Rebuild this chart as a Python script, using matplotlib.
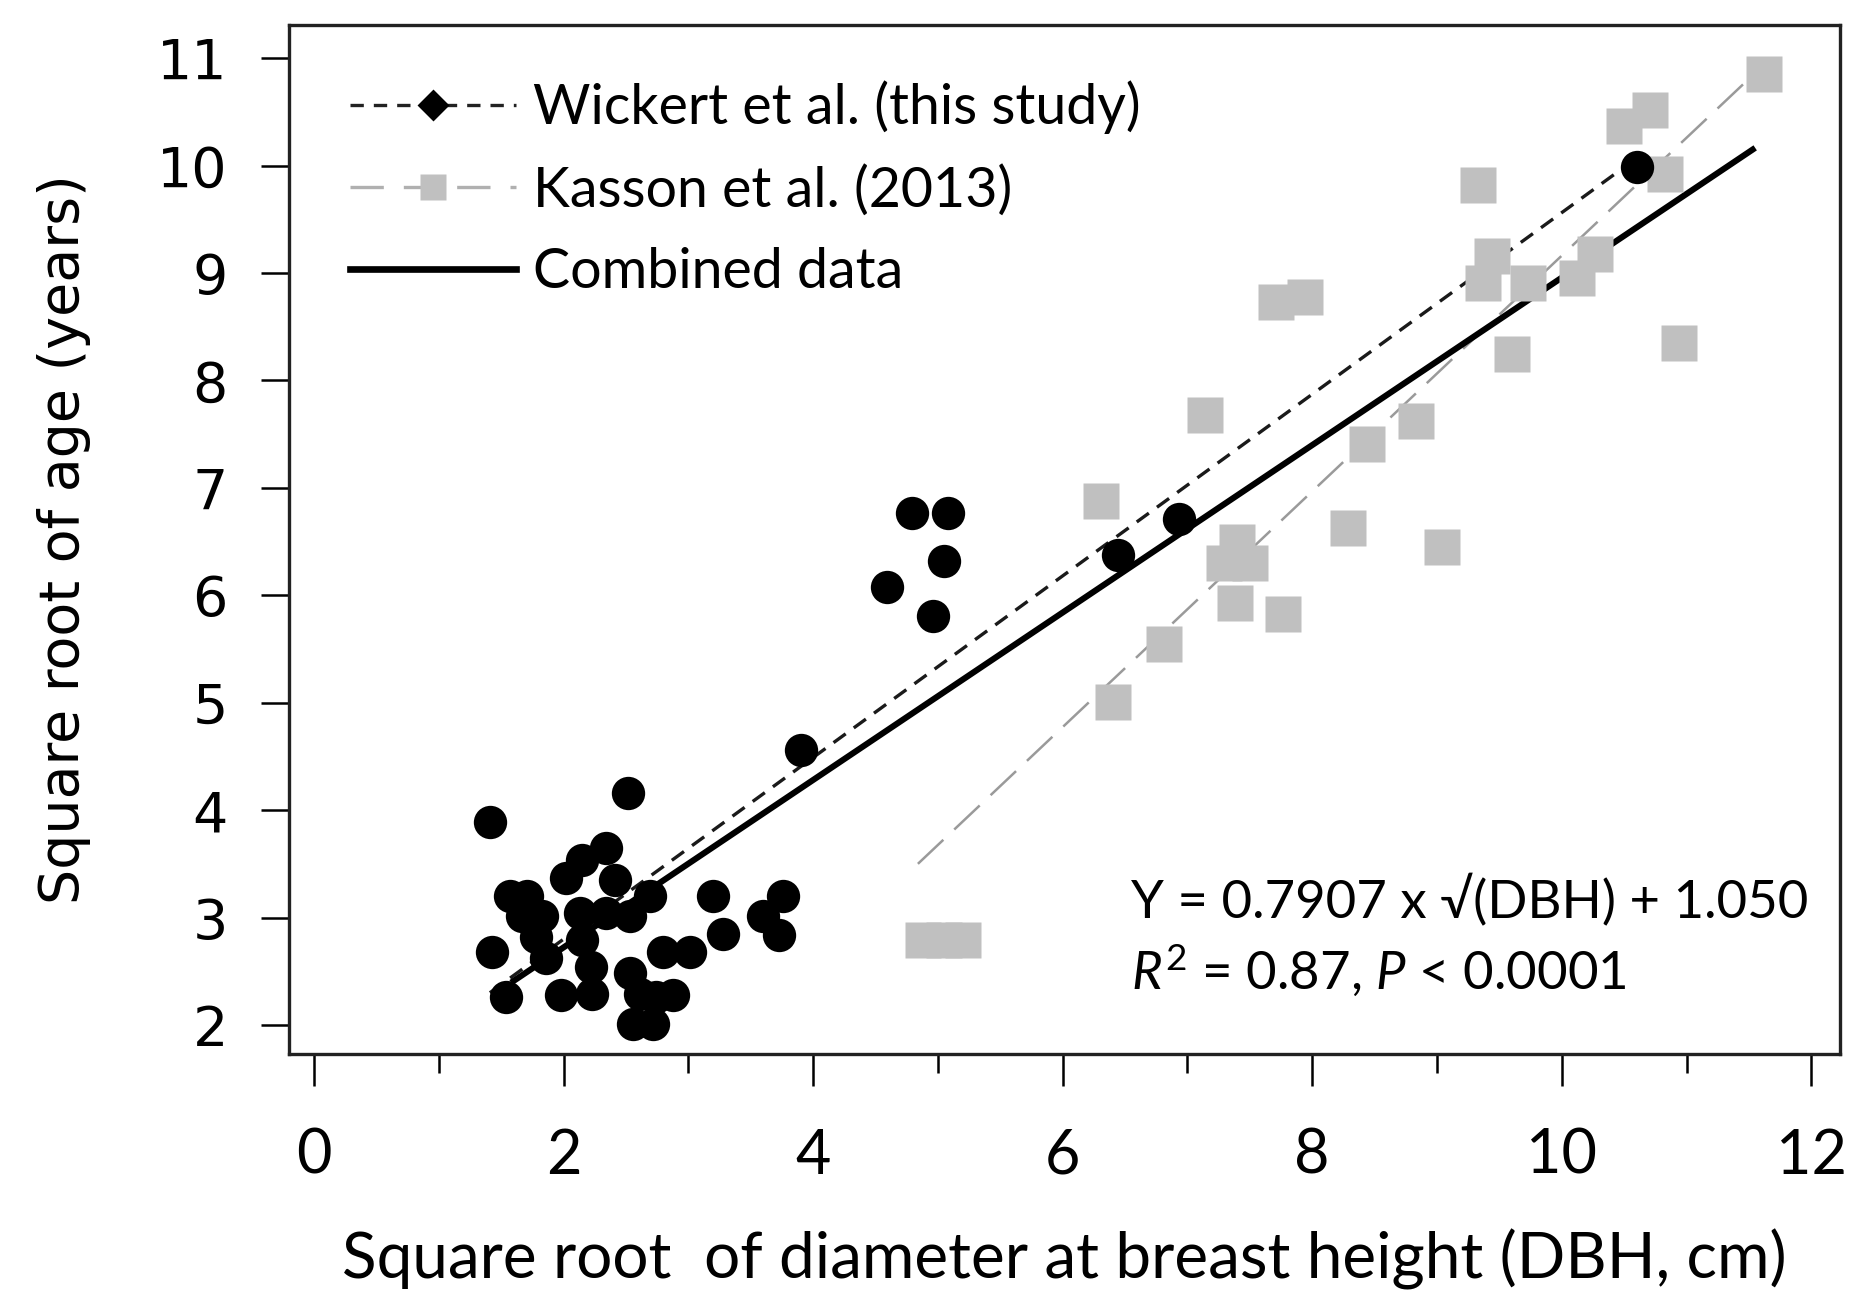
"""
Square root of age vs square root of DBH, Wickert vs Kasson data
"""

import matplotlib.pyplot as plt
from matplotlib.lines import Line2D

plt.rcParams["mathtext.fontset"] = "custom"
plt.rcParams["mathtext.rm"] = "Lato"
plt.rcParams["mathtext.it"] = "Lato:italic"

# Wickert et al. (this study) - black dots
wick_x = [1.41, 2.52, 3.90, 4.79, 5.08, 5.05, 4.59, 4.96, 6.44, 6.93, 10.60,
          2.02, 2.15, 2.34, 2.41, 1.57, 1.71, 1.67, 1.83, 1.78, 1.86,
          2.13, 2.34, 2.53, 2.69, 2.15, 2.22, 2.23, 1.43, 1.54, 1.98,
          2.80, 3.01, 3.20, 3.28, 3.76, 3.60, 3.73,
          2.53, 2.61, 2.88, 2.56, 2.72, 2.74]
wick_y = [3.89, 4.16, 4.56, 6.77, 6.77, 6.32, 6.08, 5.81, 6.38, 6.71, 9.99,
          3.37, 3.54, 3.65, 3.35, 3.20, 3.20, 3.01, 3.01, 2.82, 2.62,
          3.04, 3.04, 3.01, 3.20, 2.79, 2.54, 2.29, 2.68, 2.26, 2.28,
          2.68, 2.68, 3.20, 2.85, 3.20, 3.01, 2.84,
          2.48, 2.29, 2.28, 2.01, 2.01, 2.26]

# Kasson et al. (2013) - grey squares
kas_x = [11.62, 10.50, 10.71, 10.83, 9.33, 9.37, 9.44, 9.73, 10.12, 10.27,
         9.60, 10.94, 7.71, 7.94, 7.14, 8.83, 8.44, 6.31, 8.29, 9.04,
         7.40, 7.29, 7.50, 7.38, 7.77, 6.81, 6.40, 4.88, 5.05, 5.20]
kas_y = [10.85, 10.37, 10.52, 9.92, 9.82, 8.91, 9.16, 8.91, 8.95, 9.18,
         8.25, 8.35, 8.73, 8.78, 7.68, 7.62, 7.41, 6.88, 6.63, 6.45,
         6.50, 6.30, 6.30, 5.93, 5.83, 5.55, 5.01, 2.79, 2.79, 2.79]

# regression lines (end points)
wick_line_x = [1.41, 10.60]
wick_line_y = [2.30, 10.07]
kas_line_x = [4.84, 11.62]
kas_line_y = [3.50, 10.94]
comb_line_x = [1.60, 11.53]
comb_line_y = [2.41, 10.15]

x_ticks = list(range(0, 13, 2))
x_minor = list(range(1, 13, 2))
y_ticks = list(range(2, 12))

text_font = ["Lato", "DejaVu Sans"]

fig = plt.figure(figsize=(9.36, 6.57), dpi=200)
ax = fig.add_axes([0.1544, 0.1979, 0.8285, 0.7831])

ax.plot(kas_line_x, kas_line_y, color="#9a9a9a", lw=0.9, ls=(0, (14, 6)), zorder=2)
ax.plot(wick_line_x, wick_line_y, color="#1a1a1a", lw=1.2, ls=(0, (4.5, 3)), zorder=2)
ax.plot(comb_line_x, comb_line_y, color="black", lw=2.2, zorder=2)

ax.plot(kas_x, kas_y, ls="none", marker="s", ms=13, mfc="#c0c0c0", mec="none", zorder=3)
ax.plot(wick_x, wick_y, ls="none", marker="o", ms=12, mfc="black", mec="none", zorder=4)

ax.set_xlim(-0.2, 12.23)
ax.set_ylim(1.73, 11.31)

ax.set_xticks(x_ticks)
ax.set_xticks(x_minor, minor=True)
ax.set_yticks(y_ticks)
ax.tick_params(axis="x", which="major", length=11.5, width=0.9, pad=15)
ax.tick_params(axis="x", which="minor", length=7, width=0.9)
ax.tick_params(axis="y", length=10, width=0.9, pad=12)
for lab in ax.get_xticklabels():
    lab.set_family(text_font)
    lab.set_fontsize(22)
for lab in ax.get_yticklabels():
    lab.set_family("DejaVu Sans")
    lab.set_fontsize(20)

for sp in ax.spines.values():
    sp.set_linewidth(1.2)
    sp.set_color("#222222")

ax.set_xlabel("Square root  of diameter at breast height (DBH, cm)",
              family=text_font, fontsize=23, labelpad=16)
ax.set_ylabel("Square root of age (years)", family="DejaVu Sans", fontsize=20, labelpad=24)

# legend
handles = [
    Line2D([], [], color="#222222", lw=1.2, ls=(0, (4, 3)), marker="D", ms=7,
           mfc="black", mec="black"),
    Line2D([], [], color="#b0b0b0", lw=1.2, ls=(0, (10, 6)), marker="s", ms=9.5,
           mfc="#c0c0c0", mec="none"),
    Line2D([], [], color="black", lw=2.4),
]
labels = ["Wickert et al. (this study)", "Kasson et al. (2013)", "Combined data"]
ax.legend(handles, labels, loc="upper left", bbox_to_anchor=(0.039, 0.946),
          frameon=False, numpoints=1, handlelength=3.0, handletextpad=0.3,
          labelspacing=0.55, borderpad=0, borderaxespad=0,
          prop={"family": text_font, "size": 20})

ax.text(6.55, 3.16, "Y = 0.7907 x \u221a(DBH) + 1.050", family=text_font,
        fontsize=19, va="center", ha="left")
ax.text(6.55, 2.51, r"$R^2$ = 0.87, $P$ < 0.0001", family=text_font,
        fontsize=19, va="center", ha="left")

plt.savefig("out.png", dpi=200)
